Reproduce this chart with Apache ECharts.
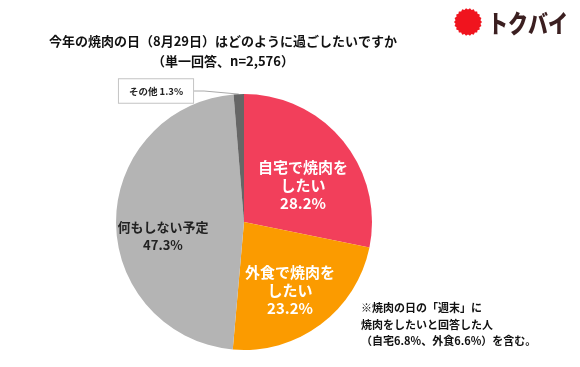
<!DOCTYPE html>
<html><head><meta charset="utf-8">
<script src="https://cdn.jsdelivr.net/npm/echarts@6/dist/echarts.min.js"></script>
<style>html,body{margin:0;padding:0;background:#fff}#c{width:580px;height:367px}</style>
</head><body><div id="c"></div>
<script>
const categories = ['自宅で焼肉を\nしたい', '外食で焼肉を\nしたい', '何もしない予定', 'その他'];
const values = [28.2, 23.2, 47.3, 1.3];
const colors = ['#f23f5b', '#fb9b00', '#b4b4b4', '#666666'];
const titleText = '今年の焼肉の日（8月29日）はどのように過ごしたいですか\n（単一回答、n=2,576）';
const noteText = '※焼肉の日の「週末」に\n焼肉をしたいと回答した人\n（自宅6.8%、外食6.6%）を含む。';

const FONT = '"Noto Sans CJK JP", sans-serif';
const chart = echarts.init(document.getElementById('c'));
const labelPos = [[303, 185], [290, 290], [163, 236], [156, 91]];

// decorative burst shape for the logo
const burst = [];
const teeth = 22;
for (let k = 0; k < teeth * 2; k++) {
  const a = Math.PI * k / teeth;
  const r = k % 2 === 0 ? 14 : 12.6;
  burst.push([468 + r * Math.cos(a), 22 + r * Math.sin(a)]);
}

chart.setOption({
  animation: false,
  title: {
    text: titleText, left: 218, top: 26, textAlign: 'center',
    textStyle: {fontFamily: FONT, fontSize: 13, fontWeight: 'bold', color: '#111', lineHeight: 20}
  },
  graphic: [
    {type: 'polygon', shape: {points: burst}, style: {fill: '#f0141e'}},
    {type: 'text', x: 488, y: 23, scaleX: 0.8, style: {text: 'トクバイ', fontFamily: FONT, fontSize: 25, fontWeight: 900, fill: '#3b1f20', verticalAlign: 'middle'}},
    {type: 'text', left: 361, top: 300, style: {text: noteText, fontFamily: FONT, fontSize: 11, fontWeight: 'bold', fill: '#111', lineHeight: 16.5}}
  ],
  series: [{
    type: 'pie',
    center: [244, 222],
    radius: 128,
    startAngle: 90,
    clockwise: true,
    silent: true,
    label: {show: true},
    labelLine: {show: false},
    labelLayout: function (p) {
      const pos = labelPos[p.dataIndex];
      return {x: pos[0], y: pos[1], align: 'center', verticalAlign: 'middle'};
    },
    data: categories.map((c, i) => {
      const item = {name: c, value: values[i], itemStyle: {color: colors[i]}};
      if (i < 2) {
        item.label = {position: 'inside', formatter: '{b}\n{c}%', fontFamily: FONT, fontSize: 15, fontWeight: 'bold', color: '#fff', lineHeight: 18};
      } else if (i === 2) {
        item.label = {position: 'inside', formatter: '{b}\n{c}%', fontFamily: FONT, fontSize: 13, fontWeight: 'bold', color: '#222', lineHeight: 18};
      } else {
        item.label = {position: 'outside', formatter: '{b} {c}%', fontFamily: FONT, fontSize: 9.5, fontWeight: 'bold', color: '#222',
          backgroundColor: '#fff', borderColor: '#c4c4c4', borderWidth: 1, padding: [7, 10]};
        item.labelLine = {show: true, length: 10, length2: 10, lineStyle: {color: '#aaa', width: 1}};
      }
      return item;
    })
  }]
});
</script></body></html>
